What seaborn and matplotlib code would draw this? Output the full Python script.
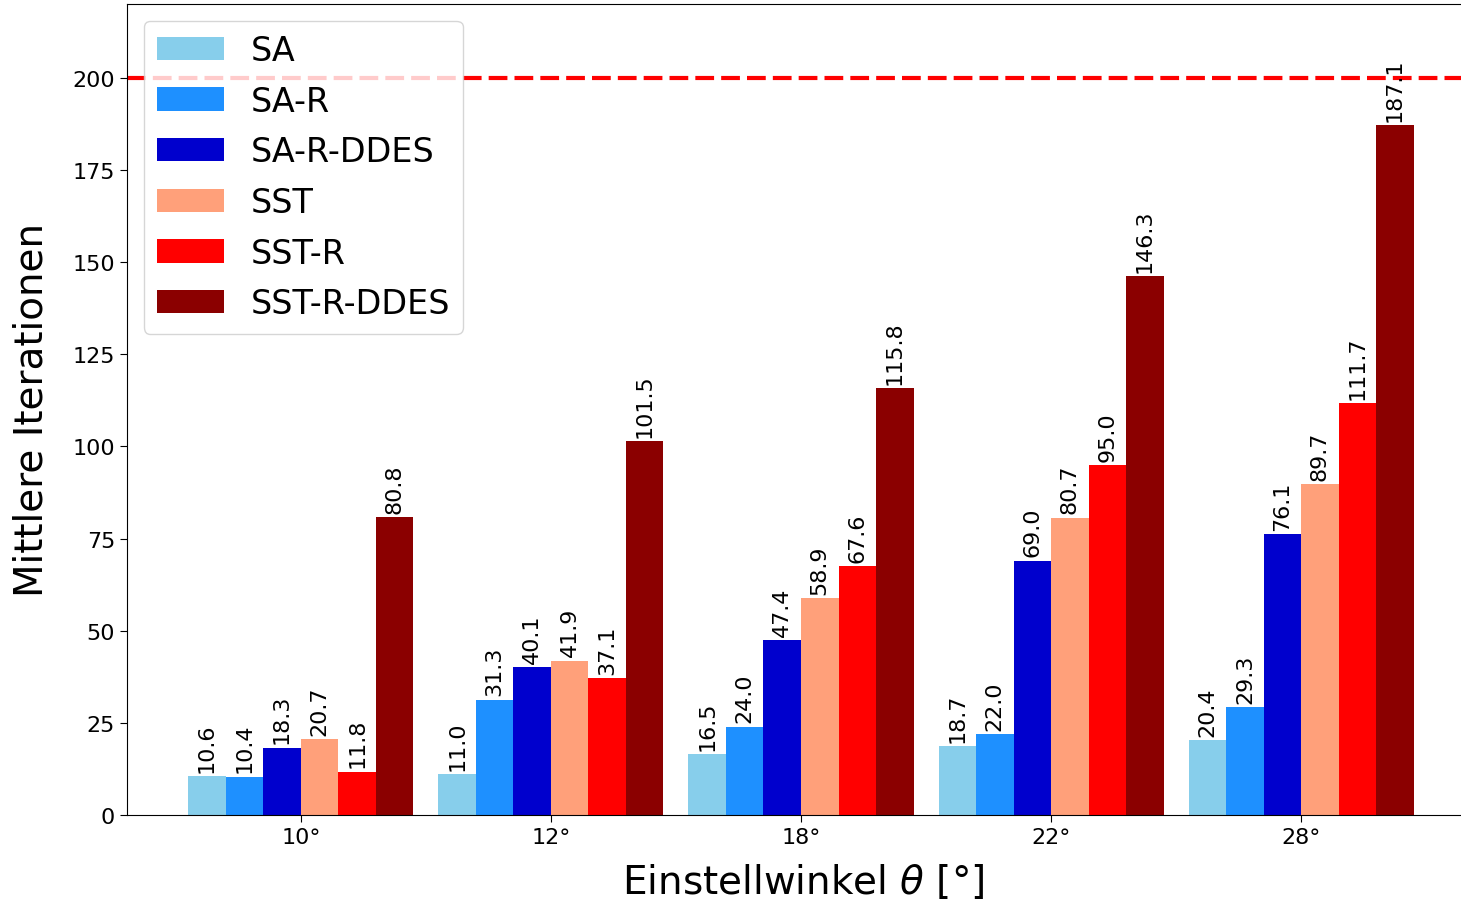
import matplotlib
matplotlib.use("Agg")
import matplotlib.pyplot as plt
import seaborn as sns
import pandas as pd

# Angles of attack and turbulence-model variants
angles = ["10°", "12°", "18°", "22°", "28°"]
models = ["SA", "SA-R", "SA-R-DDES", "SST", "SST-R", "SST-R-DDES"]

# Mean iterations per model, one entry per angle
sa = [10.6, 11.0, 16.5, 18.7, 20.4]
sa_r = [10.4, 31.3, 24.0, 22.0, 29.3]
sa_r_ddes = [18.3, 40.1, 47.4, 69.0, 76.1]
sst = [20.7, 41.9, 58.9, 80.7, 89.7]
sst_r = [11.8, 37.1, 67.6, 95.0, 111.7]
sst_r_ddes = [80.8, 101.5, 115.8, 146.3, 187.1]

iteration_limit = 200

colors = ["#87CEEB", "#1E90FF", "#0000CD", "#FFA07A", "#FF0000", "#8B0000"]

series = [sa, sa_r, sa_r_ddes, sst, sst_r, sst_r_ddes]
rows = []
for model, values in zip(models, series):
    for angle, v in zip(angles, values):
        rows.append({"angle": angle, "model": model, "iterations": v})
df = pd.DataFrame(rows)

fig = plt.figure(figsize=(14.61, 9.04), dpi=100)
ax = fig.add_axes([127 / 1461, 88 / 904, (1475 - 127) / 1461, 811 / 904])

sns.barplot(
    data=df, x="angle", y="iterations", hue="model",
    order=angles, hue_order=models, palette=colors,
    width=0.9, gap=0, errorbar=None, linewidth=0, saturation=1, ax=ax,
)

for container in ax.containers:
    ax.bar_label(container, fmt="%.1f", rotation=90, padding=3, fontsize=16)

ax.axhline(iteration_limit, color="red", linestyle=(0, (4.5, 1.7)), linewidth=3, zorder=1)

ax.set_xlim(-0.695, 4.695)
ax.set_ylim(0, 220)
ax.set_yticks(range(0, 201, 25))
ax.tick_params(axis="both", labelsize=16, length=5)

ax.set_xlabel(r"Einstellwinkel $\theta$ [°]", fontsize=28)
ax.set_ylabel("Mittlere Iterationen", fontsize=28)
ax.xaxis.set_label_coords(0.502, -0.058)
ax.yaxis.set_label_coords(-0.057, 0.5)

ax.legend(loc="upper left", fontsize=24, title=None, labelspacing=0.53)

fig.savefig("out.png", dpi=100)
